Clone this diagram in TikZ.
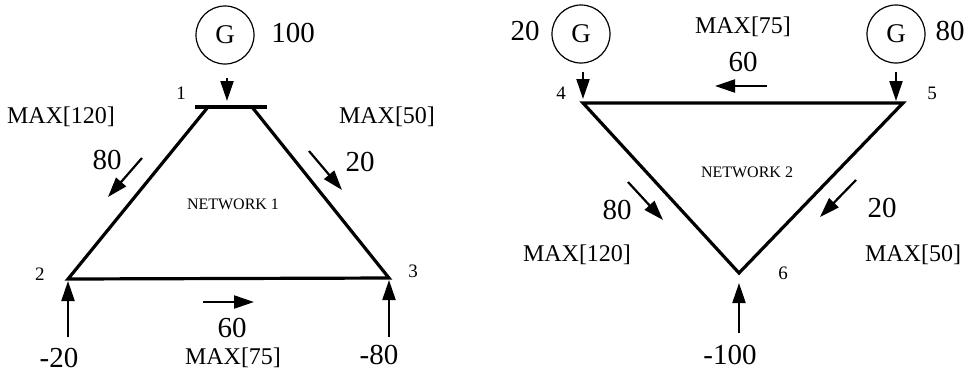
\documentclass[tikz,border=0pt]{standalone}
\usepackage{fontspec}
\setmainfont{Liberation Serif}
\usetikzlibrary{arrows.meta, positioning}

\tikzset{
  gen/.style={draw, circle, line width=0.6pt, minimum size=29pt, inner sep=0pt, font=\fontsize{13.5}{14}\selectfont},
  branch/.style={line width=1.6pt, line join=miter},
  flow/.style={line width=1.1pt, -{Triangle[length=10pt, width=6.5pt]}},
  val/.style={font=\fontsize{14.5}{15}\selectfont},
  limit/.style={font=\fontsize{12}{13}\selectfont},
  busno/.style={font=\fontsize{9.5}{10}\selectfont},
  netname/.style={font=\fontsize{8}{9}\selectfont},
}

\begin{document}
\begin{tikzpicture}[x=0.5pt, y=-0.5pt]
\useasboundingbox (0,0) rectangle (969,377);

% network 1
\node[gen] (g1) at (225,35) {G};
\node[val] (p1) at (293,33) {100};
\coordinate (b1a) at (195,107);
\coordinate (b1b) at (267,107);
\coordinate (n1l) at (208,107);
\coordinate (n1r) at (252,107);
\coordinate (n2) at (68,279);
\coordinate (n3) at (389,278);
\draw[branch] (b1a) -- (b1b);
\draw[branch] (n1l) -- (n2) -- (n3) -- (n1r);
\node[busno] (l1) at (181,93) {1};
\node[busno] (l2) at (40,274) {2};
\node[busno] (l3) at (413,271) {3};
\node[netname] (net1) at (233,204) {NETWORK 1};

\coordinate (g1o) at (227,78);
\coordinate (g1i) at (227,101);
\draw[flow] (g1o) -- (g1i);

\node[limit] (m12) at (61,117) {MAX[120]};
\node[val] (f12) at (107,160) {80};
\coordinate (a12s) at (142,158);
\coordinate (a12e) at (108,197);
\draw[flow] (a12s) -- (a12e);

\node[limit] (m13) at (387,117) {MAX[50]};
\node[val] (f13) at (360,162) {20};
\coordinate (a13s) at (309,151);
\coordinate (a13e) at (342,190);
\draw[flow] (a13s) -- (a13e);

\coordinate (a23s) at (203,302);
\coordinate (a23e) at (254,302);
\draw[flow] (a23s) -- (a23e);
\node[val] (f23) at (232,328) {60};
\node[limit] (m23) at (233,358) {MAX[75]};

\coordinate (d2) at (68,337);
\draw[flow] (d2) -- ([yshift=-1pt]n2);
\node[val] (p2) at (59,358) {-20};
\coordinate (d3) at (389,337);
\draw[flow] (d3) -- ([yshift=-1pt]n3);
\node[val] (p3) at (379,355) {-80};

% network 2
\node[gen] (g4) at (581,34) {G};
\node[val] (p4) at (525,31) {20};
\node[gen] (g5) at (896,34) {G};
\node[val] (p5) at (950,31) {80};
\coordinate (n4) at (583,103);
\coordinate (n5) at (903,103);
\coordinate (n6) at (739,273);
\draw[branch] (n4) -- (n5) -- (n6) -- cycle;
\node[busno] (l4) at (561,93) {4};
\node[busno] (l5) at (932,93) {5};
\node[busno] (l6) at (783,273) {6};
\node[netname] (net2) at (747,172) {NETWORK 2};

\coordinate (g4o) at (583,72);
\draw[flow] (g4o) -- ([yshift=2pt]n4);
\coordinate (g5o) at (896,72);
\coordinate (g5i) at (896,101);
\draw[flow] (g5o) -- (g5i);

\node[limit] (m45) at (743,27) {MAX[75]};
\node[val] (f45) at (743,62) {60};
\coordinate (a45s) at (767,86);
\coordinate (a45e) at (715,86);
\draw[flow] (a45s) -- (a45e);

\node[val] (f46) at (617,210) {80};
\node[limit] (m46) at (577,255) {MAX[120]};
\coordinate (a46s) at (628,182);
\coordinate (a46e) at (663,220);
\draw[flow] (a46s) -- (a46e);

\node[val] (f56) at (882,208) {20};
\node[limit] (m56) at (913,255) {MAX[50]};
\coordinate (a56s) at (856,180);
\coordinate (a56e) at (820,217);
\draw[flow] (a56s) -- (a56e);

\coordinate (d6) at (739,333);
\coordinate (d6i) at (739,283);
\draw[flow] (d6) -- (d6i);
\node[val] (p6) at (730,355) {-100};
\end{tikzpicture}
\end{document}
